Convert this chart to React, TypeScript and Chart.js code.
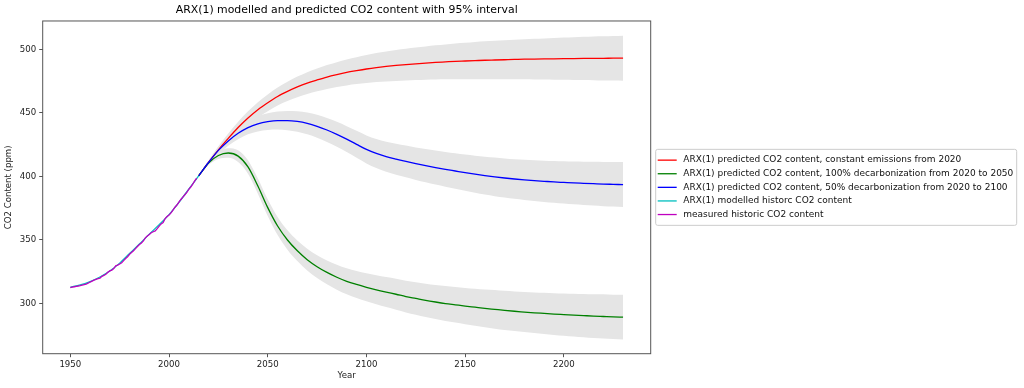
import { useEffect, useRef } from 'react';
import { Chart, registerables } from 'chart.js';

Chart.register(...registerables);

const FONT = "'DejaVu Sans', sans-serif";

const titleText = 'ARX(1) modelled and predicted CO2 content with 95% interval';
const xTitle = 'Year';
const yTitle = 'CO2 Content (ppm)';

const xTicks = [1950, 2000, 2050, 2100, 2150, 2200];
const yTicks = [300, 350, 400, 450, 500];

const legendLabels = [
  'ARX(1) predicted CO2 content, constant emissions from 2020',
  'ARX(1) predicted CO2 content, 100% decarbonization from 2020 to 2050',
  'ARX(1) predicted CO2 content, 50% decarbonization from 2020 to 2100',
  'ARX(1) modelled historc CO2 content',
  'measured historic CO2 content',
];
const seriesColors = ['#ff0000', '#008000', '#0000ff', '#00bfbf', '#bf00bf'];

const histYears = [
  1950, 1951, 1952, 1953, 1954, 1955, 1956, 1957, 1958, 1959,
  1960, 1961, 1962, 1963, 1964, 1965, 1966, 1967, 1968, 1969,
  1970, 1971, 1972, 1973, 1974, 1975, 1976, 1977, 1978, 1979,
  1980, 1981, 1982, 1983, 1984, 1985, 1986, 1987, 1988, 1989,
  1990, 1991, 1992, 1993, 1994, 1995, 1996, 1997, 1998, 1999,
  2000, 2001, 2002, 2003, 2004, 2005, 2006, 2007, 2008, 2009,
  2010, 2011, 2012, 2013, 2014,
];
const measuredCO2 = [
  312.6, 312.9, 313.2, 313.5, 313.8, 314.1, 314.5, 314.9, 315.3, 316.0,
  316.9, 317.6, 318.4, 319.0, 319.6, 320.0, 321.4, 322.2, 323.0, 324.6,
  325.7, 326.3, 327.5, 329.7, 330.2, 331.1, 332.0, 333.8, 335.4, 336.8,
  338.8, 340.1, 341.5, 343.2, 344.9, 346.4, 347.6, 349.3, 351.7, 353.2,
  354.4, 355.7, 356.5, 357.2, 358.9, 360.9, 362.7, 363.8, 366.8, 368.5,
  369.7, 371.3, 373.5, 375.8, 377.5, 379.8, 381.9, 383.8, 385.6, 387.4,
  389.9, 391.7, 393.9, 396.5, 398.6,
];

const modelYears = [1950, 1955, 1960, 1965, 1970, 1975, 1980, 1985, 1990, 1995, 2000, 2005, 2010, 2015];
const modelledCO2 = [312.8, 314.7, 317.3, 320.9, 325.6, 331.8, 339.3, 346.8, 354.6, 362.1, 370.0, 379.6, 390.0, 400.5];

const predYears = [
  2015, 2020, 2025, 2030, 2035, 2040, 2045, 2050, 2055, 2060,
  2065, 2070, 2075, 2080, 2085, 2090, 2095, 2100, 2105, 2110,
  2115, 2120, 2125, 2130, 2135, 2140, 2145, 2150, 2155, 2160,
  2165, 2170, 2175, 2180, 2185, 2190, 2195, 2200, 2205, 2210,
  2215, 2220, 2225, 2230,
];
const constantEmissions = [
  400.5, 411.0, 421.0, 430.0, 438.5, 446.0, 452.5, 458.0, 463.0, 467.0,
  470.5, 473.5, 476.0, 478.3, 480.2, 481.9, 483.3, 484.6, 485.7, 486.6,
  487.4, 488.1, 488.7, 489.3, 489.8, 490.2, 490.6, 490.9, 491.2, 491.5,
  491.7, 491.9, 492.1, 492.3, 492.4, 492.5, 492.6, 492.7, 492.8, 492.9,
  493.0, 493.0, 493.1, 493.1,
];
const decarb100 = [
  400.5, 410.5, 416.5, 418.5, 416.0, 407.5, 392.5, 375.5, 361.0, 350.0,
  341.5, 334.5, 329.0, 324.5, 320.7, 317.5, 315.0, 312.8, 310.8, 309.0,
  307.3, 305.5, 304.0, 302.5, 301.2, 300.0, 299.0, 298.0, 297.1, 296.2,
  295.4, 294.6, 293.9, 293.3, 292.7, 292.2, 291.7, 291.3, 290.9, 290.5,
  290.1, 289.8, 289.5, 289.3,
];
const decarb50 = [
  400.5, 411.0, 420.5, 428.0, 434.0, 438.5, 441.5, 443.2, 444.0, 444.0,
  443.3, 441.8, 439.5, 436.6, 433.2, 429.4, 425.3, 421.3, 418.1, 415.6,
  413.6, 411.8, 410.1, 408.5, 407.0, 405.6, 404.3, 403.0, 401.8, 400.7,
  399.7, 398.8, 398.0, 397.3, 396.7, 396.2, 395.7, 395.3, 394.9, 394.6,
  394.3, 394.0, 393.8, 393.6,
];
const interval95 = [
  0.0, 1.5, 2.8, 3.8, 4.6, 5.3, 6.0, 6.6, 7.1, 7.6,
  8.1, 8.6, 9.0, 9.4, 9.8, 10.2, 10.6, 11.0, 11.4, 11.8,
  12.2, 12.5, 12.8, 13.1, 13.4, 13.7, 14.0, 14.3, 14.6, 14.9,
  15.2, 15.4, 15.6, 15.8, 16.0, 16.2, 16.4, 16.6, 16.8, 17.0,
  17.2, 17.4, 17.5, 17.7,
];

const toPts = (xs: number[], ys: number[]) => ys.map((y, i) => ({ x: xs[i], y }));

const PLOT_LEFT = 42.7;
const PLOT_RIGHT = 650.7;
const PLOT_BOTTOM_AXIS = 34.3;
const W = 1024;
const H = 388;

const framePlugin = {
  id: 'frame',
  afterDatasetsDraw(chart: any) {
    const { ctx, chartArea } = chart;
    const { left, top, right, bottom } = chartArea;
    ctx.save();
    ctx.strokeStyle = '#555555';
    ctx.lineWidth = 1;
    ctx.strokeRect(left, top, right - left, bottom - top);
    ctx.restore();
  },
};

const legendPlugin = {
  id: 'boxLegend',
  afterDraw(chart: any) {
    const { ctx, chartArea } = chart;
    const rowH = 13.6;
    const pad = 4;
    const boxLeft = chartArea.right + 5;
    const boxRight = 1016.7;
    const cy = (chartArea.top + chartArea.bottom) / 2;
    const boxH = rowH * legendLabels.length + pad * 2;
    const boxTop = cy - boxH / 2;
    ctx.save();
    ctx.fillStyle = 'rgba(255,255,255,0.8)';
    ctx.strokeStyle = '#cccccc';
    ctx.lineWidth = 1;
    ctx.beginPath();
    const r = 2;
    const x0 = boxLeft, y0 = boxTop, x1 = boxRight, y1 = boxTop + boxH;
    ctx.moveTo(x0 + r, y0);
    ctx.lineTo(x1 - r, y0);
    ctx.quadraticCurveTo(x1, y0, x1, y0 + r);
    ctx.lineTo(x1, y1 - r);
    ctx.quadraticCurveTo(x1, y1, x1 - r, y1);
    ctx.lineTo(x0 + r, y1);
    ctx.quadraticCurveTo(x0, y1, x0, y1 - r);
    ctx.lineTo(x0, y0 + r);
    ctx.quadraticCurveTo(x0, y0, x0 + r, y0);
    ctx.closePath();
    ctx.fill();
    ctx.stroke();
    ctx.font = `9px ${FONT}`;
    ctx.textBaseline = 'middle';
    ctx.textAlign = 'left';
    legendLabels.forEach((label, i) => {
      const y = boxTop + pad + rowH * (i + 0.5);
      ctx.strokeStyle = seriesColors[i];
      ctx.lineWidth = 1.3;
      ctx.beginPath();
      ctx.moveTo(boxLeft + 2, y);
      ctx.lineTo(boxLeft + 21, y);
      ctx.stroke();
      ctx.fillStyle = '#111111';
      ctx.fillText(label, boxLeft + 27.6, y);
    });
    ctx.restore();
  },
};

export default function App() {
  const ref = useRef<HTMLCanvasElement | null>(null);

  useEffect(() => {
    if (!ref.current) return;
    const bandColor = '#e5e5e5';
    const band = (vals: number[]) => [
      {
        data: toPts(predYears, vals.map((v, i) => v - interval95[i])),
        borderWidth: 0,
        pointRadius: 0,
        fill: false,
        order: 20,
        cubicInterpolationMode: 'monotone',
      },
      {
        data: toPts(predYears, vals.map((v, i) => v + interval95[i])),
        borderWidth: 0,
        pointRadius: 0,
        fill: '-1',
        backgroundColor: bandColor,
        order: 20,
        cubicInterpolationMode: 'monotone',
      },
    ];
    const line = (xs: number[], ys: number[], color: string, order: number, smooth: boolean) => ({
      data: toPts(xs, ys),
      borderColor: color,
      borderWidth: 1.3,
      pointRadius: 0,
      fill: false,
      order,
      cubicInterpolationMode: smooth ? 'monotone' : 'default',
      tension: 0,
    });

    const chart = new Chart(ref.current, {
      type: 'line',
      data: {
        datasets: [
          ...band(constantEmissions),
          ...band(decarb100),
          ...band(decarb50),
          line(predYears, constantEmissions, seriesColors[0], 5, true),
          line(predYears, decarb100, seriesColors[1], 4, true),
          line(predYears, decarb50, seriesColors[2], 3, true),
          line(modelYears, modelledCO2, seriesColors[3], 2, true),
          line(histYears, measuredCO2, seriesColors[4], 1, false),
        ] as any,
      },
      options: {
        responsive: false,
        animation: false,
        events: [],
        layout: { padding: { left: 0, right: W - PLOT_RIGHT, top: 0, bottom: 0 } },
        plugins: {
          legend: { display: false },
          tooltip: { enabled: false },
          filler: { drawTime: 'beforeDatasetsDraw' },
          title: {
            display: true,
            text: titleText,
            fullSize: false,
            color: '#000000',
            font: { family: FONT, size: 10.9, weight: 'normal' },
            padding: { top: 3.5, bottom: 4.4 },
          },
        },
        scales: {
          x: {
            type: 'linear',
            min: 1936,
            max: 2244,
            border: { display: false },
            grid: { drawOnChartArea: false, drawTicks: true, tickLength: 3.5, color: '#555555' },
            ticks: {
              color: '#222222',
              font: { family: FONT, size: 8.6 },
              padding: 2,
              callback: (v: any) => String(v),
            },
            afterBuildTicks: (s: any) => {
              s.ticks = xTicks.map((v) => ({ value: v }));
            },
            afterFit: (s: any) => {
              s.height = PLOT_BOTTOM_AXIS;
            },
            title: {
              display: true,
              text: xTitle,
              color: '#222222',
              font: { family: FONT, size: 8.6 },
              padding: { top: 0, bottom: 6.9 },
            },
          },
          y: {
            type: 'linear',
            min: 260.5,
            max: 522.4,
            border: { display: false },
            grid: { drawOnChartArea: false, drawTicks: true, tickLength: 3.5, color: '#555555' },
            ticks: {
              color: '#222222',
              font: { family: FONT, size: 8.6 },
              padding: 3,
              callback: (v: any) => String(v),
            },
            afterBuildTicks: (s: any) => {
              s.ticks = yTicks.map((v) => ({ value: v }));
            },
            afterFit: (s: any) => {
              s.width = PLOT_LEFT;
            },
            title: {
              display: true,
              text: yTitle,
              color: '#222222',
              font: { family: FONT, size: 8.6 },
              padding: { top: 4, bottom: 0 },
            },
          },
        },
      },
      plugins: [framePlugin, legendPlugin],
    } as any);
    return () => chart.destroy();
  }, []);

  return (
    <div style={{ position: 'absolute', left: 0, top: 0, width: W, height: H, background: '#fff' }}>
      <canvas ref={ref} width={W} height={H} style={{ display: 'block', width: W, height: H }} />
    </div>
  );
}
